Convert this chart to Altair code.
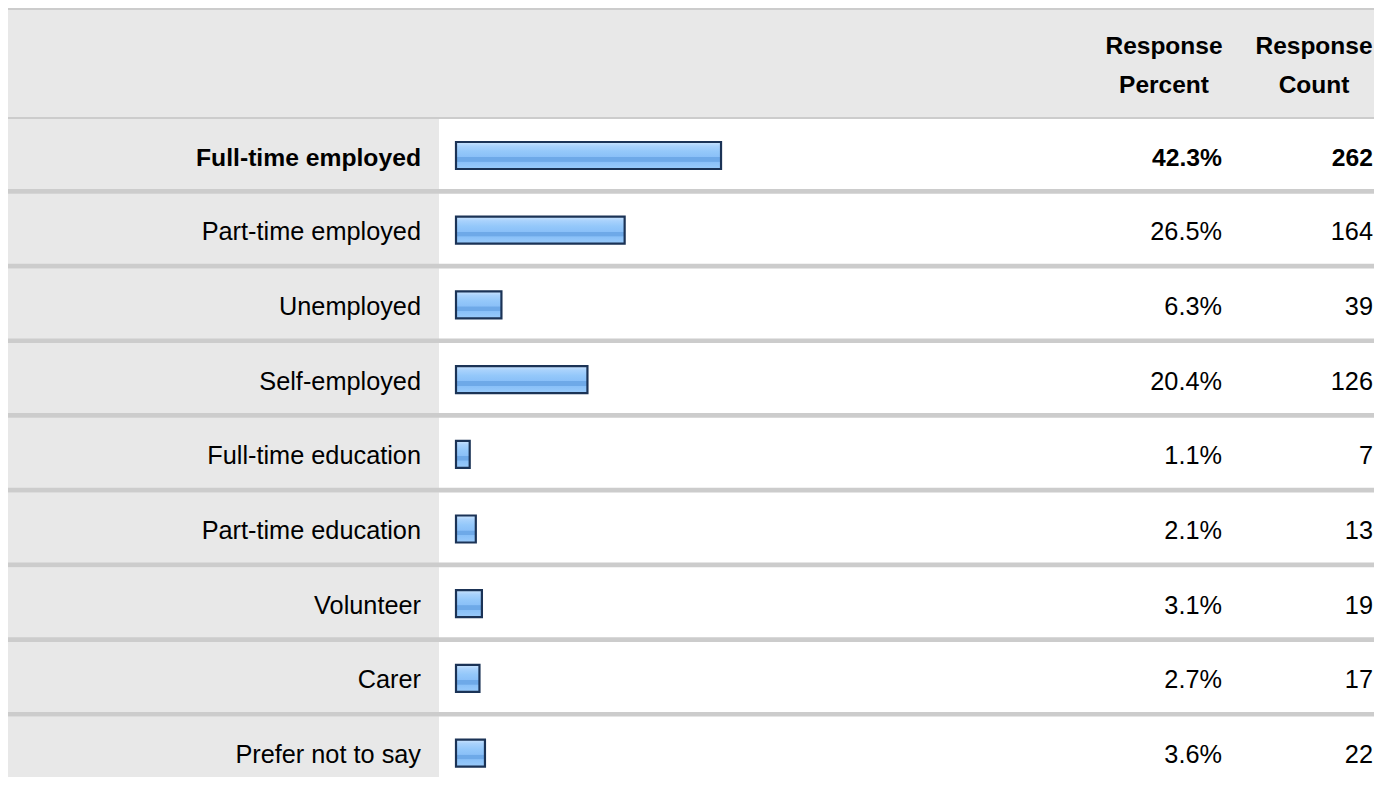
import altair as alt
import pandas as pd

# ---- data ----
labels = ["Full-time employed", "Part-time employed", "Unemployed", "Self-employed",
          "Full-time education", "Part-time education", "Volunteer", "Carer",
          "Prefer not to say"]
percents = [42.3, 26.5, 6.3, 20.4, 1.1, 2.1, 3.1, 2.7, 3.6]
counts = [262, 164, 39, 126, 7, 13, 19, 17, 22]
highlighted = [True, False, False, False, False, False, False, False, False]
header_percent = ["Response", "Percent"]
header_count = ["Response", "Count"]

# ---- layout ----
W, H = 1366, 769
ROW_TOP = 111
PITCH = 74.7
N = len(labels)
FONT = "Liberation Sans"

df = pd.DataFrame({
    "label": labels,
    "pct": percents,
    "count": counts,
    "hl": highlighted,
    "row": list(range(N)),
})
df["top"] = df["row"]
df["bot"] = df["row"] + 1
df["sep"] = df["row"] + 70 / PITCH
df["bar_top"] = df["row"] + 23 / PITCH
df["bar_bot"] = df["row"] + 50 / PITCH
df["base"] = df["row"] + 46.5 / PITCH
df["pct_text"] = [f"{p:.1f}%" for p in percents]
df["count_text"] = [str(c) for c in counts]
df["zero"] = 0.0

one = pd.DataFrame({"k": [0]})
yscale = alt.Scale(domain=[0, N], range=[ROW_TOP, ROW_TOP + N * PITCH])
Y = lambda f: alt.Y(f"{f}:Q", scale=yscale, axis=None)

grad = alt.LinearGradient(
    gradient="linear", x1=0, x2=0, y1=0, y2=1,
    stops=[
        alt.GradientStop(color="#cce5fe", offset=0),
        alt.GradientStop(color="#a9d2fc", offset=0.15),
        alt.GradientStop(color="#94c8fa", offset=0.35),
        alt.GradientStop(color="#8ac0f8", offset=0.55),
        alt.GradientStop(color="#6ea9e8", offset=0.57),
        alt.GradientStop(color="#6ea9e8", offset=0.72),
        alt.GradientStop(color="#89c0f8", offset=0.74),
        alt.GradientStop(color="#9acbfa", offset=1),
    ],
)

# header
hdr_line_top = alt.Chart(one).mark_rect(color="#cccccc").encode(
    x=alt.value(0), x2=alt.value(W), y=alt.value(0), y2=alt.value(2))
hdr_bg = alt.Chart(one).mark_rect(color="#e8e8e8").encode(
    x=alt.value(0), x2=alt.value(W), y=alt.value(2), y2=alt.value(109))
hdr_line_bot = alt.Chart(one).mark_rect(color="#cccccc").encode(
    x=alt.value(0), x2=alt.value(W), y=alt.value(109), y2=alt.value(111))
hdr_t1 = alt.Chart(one).mark_text(
    text=header_percent, font=FONT, fontSize=24.5, fontWeight="bold",
    align="center", baseline="alphabetic", lineHeight=39, color="#000000"
).encode(x=alt.value(1156), y=alt.value(46))
hdr_t2 = alt.Chart(one).mark_text(
    text=header_count, font=FONT, fontSize=24.5, fontWeight="bold",
    align="center", baseline="alphabetic", lineHeight=39, color="#000000"
).encode(x=alt.value(1306), y=alt.value(46))

base = alt.Chart(df)

label_bg = base.mark_rect(color="#e8e8e8").encode(
    x=alt.value(0), x2=alt.value(431), y=Y("top"), y2="bot:Q")
seps = base.mark_rect(color="#cccccc").encode(
    x=alt.value(0), x2=alt.value(W), y=Y("sep"), y2="bot:Q")

bars = base.mark_rect(fill=grad, stroke="#1b3356", strokeWidth=2.2, x2Offset=7).encode(
    x=alt.X("zero:Q", scale=alt.Scale(domain=[0, 100], range=[448, 1058]), axis=None),
    x2="pct:Q",
    y=Y("bar_top"), y2="bar_bot:Q",
)

def texts(field, xpos, bold):
    src = base.transform_filter(alt.datum.hl if bold else ~alt.datum.hl)
    return src.mark_text(
        font=FONT, fontSize=24.7 if bold else 25.3,
        fontWeight="bold" if bold else "normal",
        align="right", baseline="alphabetic", color="#000000",
    ).encode(x=alt.value(xpos), y=Y("base"), text=f"{field}:N")

layers = [hdr_line_top, hdr_bg, hdr_line_bot, hdr_t1, hdr_t2, label_bg, seps, bars]
for bold in (True, False):
    layers += [texts("label", 413, bold), texts("pct_text", 1214, bold),
               texts("count_text", 1365, bold)]

chart = alt.layer(*layers).properties(
    width=W, height=H,
    autosize=alt.AutoSizeParams(type="none"),
    padding=0,
    background="white",
).configure_view(stroke=None)

chart.save("out.html", embed_options={"renderer": "svg", "actions": False})
